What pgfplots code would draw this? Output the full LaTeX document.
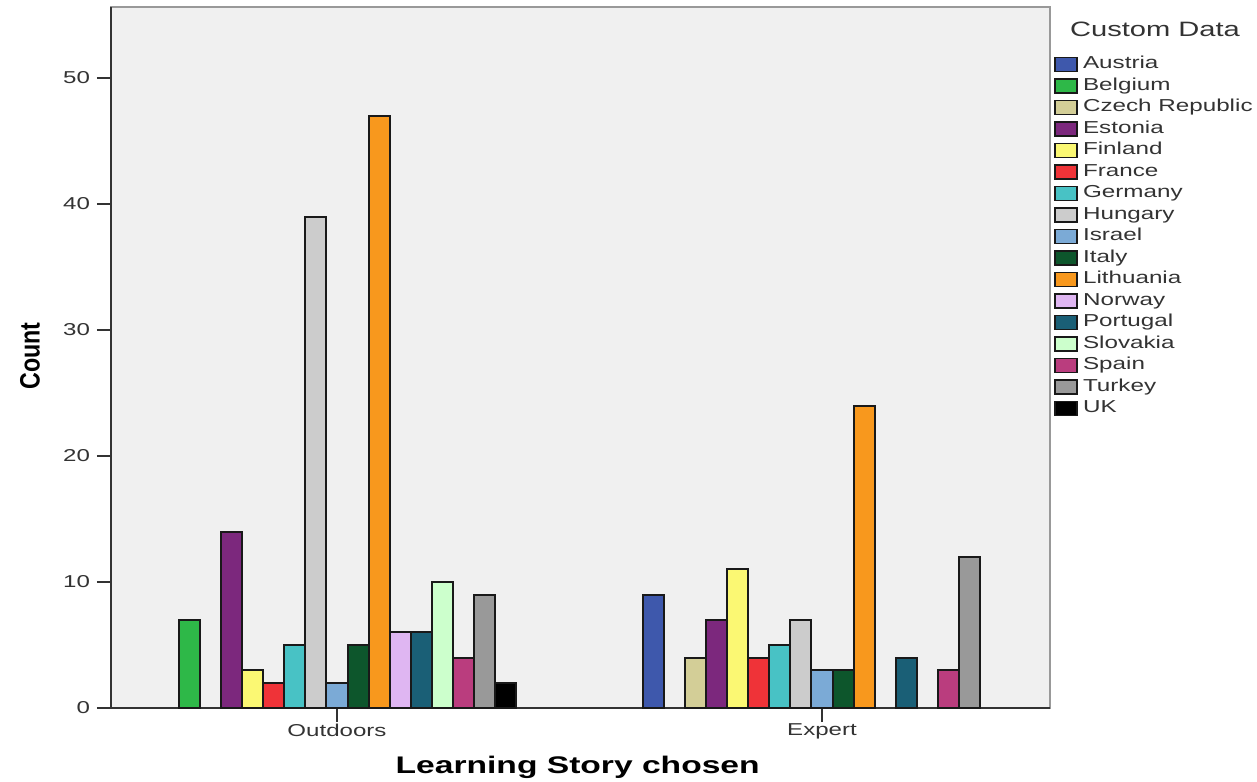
\documentclass[border=0pt]{standalone}
\usepackage{fontspec}
\setmainfont{Liberation Sans}[FakeStretch=1.4]
\newfontfamily\countfont{Liberation Sans}[FakeStretch=0.83]
\usepackage{pgfplots}
\pgfplotsset{compat=1.18}

\definecolor{cAustria}{HTML}{3E58AC}
\definecolor{cBelgium}{HTML}{2EB848}
\definecolor{cCzech}{HTML}{D3CE97}
\definecolor{cEstonia}{HTML}{7C287D}
\definecolor{cFinland}{HTML}{FBF873}
\definecolor{cFrance}{HTML}{EF3338}
\definecolor{cGermany}{HTML}{48C2C5}
\definecolor{cHungary}{HTML}{CCCCCC}
\definecolor{cIsrael}{HTML}{7BAAD6}
\definecolor{cItaly}{HTML}{0D562C}
\definecolor{cLithuania}{HTML}{F8981D}
\definecolor{cNorway}{HTML}{DFB6F2}
\definecolor{cPortugal}{HTML}{1A5F76}
\definecolor{cSlovakia}{HTML}{CCFFCC}
\definecolor{cSpain}{HTML}{BA3D7E}
\definecolor{cTurkey}{HTML}{999999}
\definecolor{cUK}{HTML}{000000}
\definecolor{plotbg}{HTML}{F0F0F0}
\definecolor{txt}{HTML}{333333}

\begin{document}
\begin{tikzpicture}
  \useasboundingbox (-55.5pt,-36.5pt) rectangle (573pt,354pt);
  \begin{axis}[
      scale only axis,
      width=469.5pt, height=350.5pt,
      ybar=0pt, bar width=10.55pt,
      xmin=-0.466, xmax=1.470,
      ymin=0, ymax=55.63,
      xtick={0,1}, xticklabels={Outdoors,Expert},
      ytick={0,10,20,30,40,50},
      axis x line*=bottom, axis y line*=left,
      axis line style={-, draw=black!80, line width=1.2pt},
      axis background/.style={fill=plotbg, draw=gray!80, line width=1pt},
      tick align=outside, major tick length=7pt,
      tick style={draw=black!80, line width=1pt},
      /pgf/number format/assume math mode=true,
      ticklabel style={font=\fontsize{8.6pt}{10pt}\selectfont, text=txt},
      xticklabel style={yshift=2.5pt},
      xlabel={Learning Story chosen},
      xlabel style={font=\fontsize{12pt}{14pt}\selectfont\bfseries,
        at={(axis description cs:0.497,-0.084)}, anchor=center},
      ylabel={Count},
      ylabel style={font=\fontsize{14pt}{16pt}\selectfont\countfont\bfseries,
        at={(axis description cs:-0.0863,0.502)}, anchor=center},
      every axis plot/.append style={draw=black!90, line width=1pt},
      legend image code/.code={\draw[#1, line width=0.8pt] (0pt,-3.5pt) rectangle (11pt,3.5pt);},
      legend cell align=left,
      legend style={at={(axis description cs:1.0043,0.934)}, anchor=north west,
        draw=none, fill=none, inner sep=0pt,
        font=\fontsize{8.65pt}{10pt}\selectfont, text=txt,
        nodes={inner ysep=0pt, inner xsep=2.5pt, text height=7.5pt, text depth=3.25pt, anchor=west},
        row sep=0pt},
    ]
    \addplot[fill=cAustria] coordinates {(1,9)};
    \addplot[fill=cBelgium] coordinates {(0,7)};
    \addplot[fill=cCzech] coordinates {(1,4)};
    \addplot[fill=cEstonia] coordinates {(0,14) (1,7)};
    \addplot[fill=cFinland] coordinates {(0,3) (1,11)};
    \addplot[fill=cFrance] coordinates {(0,2) (1,4)};
    \addplot[fill=cGermany] coordinates {(0,5) (1,5)};
    \addplot[fill=cHungary] coordinates {(0,39) (1,7)};
    \addplot[fill=cIsrael] coordinates {(0,2) (1,3)};
    \addplot[fill=cItaly] coordinates {(0,5) (1,3)};
    \addplot[fill=cLithuania] coordinates {(0,47) (1,24)};
    \addplot[fill=cNorway] coordinates {(0,6)};
    \addplot[fill=cPortugal] coordinates {(0,6) (1,4)};
    \addplot[fill=cSlovakia] coordinates {(0,10)};
    \addplot[fill=cSpain] coordinates {(0,4) (1,3)};
    \addplot[fill=cTurkey] coordinates {(0,9) (1,12)};
    \addplot[fill=cUK] coordinates {(0,2)};
    \legend{Austria,Belgium,Czech Republic,Estonia,Finland,France,Germany,Hungary,Israel,Italy,Lithuania,Norway,Portugal,Slovakia,Spain,Turkey,UK}
  \end{axis}
  \node[font=\fontsize{10.4pt}{12pt}\selectfont, text=txt] at (522pt,339.5pt) {Custom Data};
\end{tikzpicture}
\end{document}
